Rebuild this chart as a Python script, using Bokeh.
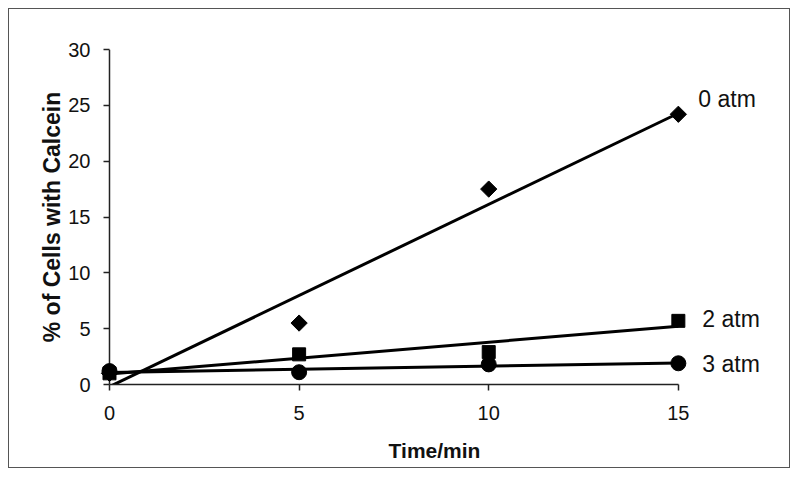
import numpy as np
from bokeh.plotting import figure
from bokeh.models import Range1d, Span, Label
from bokeh.embed import file_html
from bokeh.resources import INLINE

# ---- data ----
time_min = [0, 5, 10, 15]
atm0 = [1.0, 5.5, 17.5, 24.2]
atm2 = [1.0, 2.7, 2.9, 5.7]
atm3 = [1.2, 1.1, 1.8, 1.9]
series_names = ["0 atm", "2 atm", "3 atm"]
x_ticks = [0, 5, 10, 15]
y_ticks = [0, 5, 10, 15, 20, 25, 30]

FONT = "Liberation Sans"
INK = "#111111"

p = figure(width=782, height=460, output_backend="svg", toolbar_location=None,
           x_range=Range1d(-0.29, 17.43), y_range=Range1d(0, 30),
           min_border_left=89, min_border_right=21,
           min_border_top=40, min_border_bottom=85)
p.styles = {"border": "1px solid #555555", "margin-left": "8px", "margin-top": "8px"}
p.outline_line_color = None
p.grid.visible = False
p.background_fill_color = "white"
p.border_fill_color = "white"

# x axis
xa = p.xaxis[0]
xa.ticker = x_ticks
xa.bounds = (0, 15)
xa.axis_line_color = "#222222"
xa.axis_line_width = 1.5
xa.major_tick_line_color = "#222222"
xa.major_tick_line_width = 1.5
xa.major_tick_in = 0
xa.major_tick_out = 6
xa.minor_tick_line_color = None
xa.major_label_text_font = FONT
xa.major_label_text_font_size = "20px"
xa.major_label_text_color = INK
xa.major_label_standoff = 15
xa.axis_label = "Time/min"
xa.axis_label_text_font = FONT
xa.axis_label_text_font_style = "bold"
xa.axis_label_text_font_size = "21px"
xa.axis_label_text_color = INK
xa.axis_label_standoff = 16

# y axis (line drawn as a span at x = 0)
ya = p.yaxis[0]
ya.ticker = y_ticks
ya.axis_line_color = None
ya.major_tick_line_color = "#222222"
ya.major_tick_line_width = 1.5
ya.major_tick_in = 11
ya.major_tick_out = -5
ya.minor_tick_line_color = None
ya.minor_tick_in = 0
ya.minor_tick_out = 0
ya.major_label_text_font = FONT
ya.major_label_text_font_size = "20px"
ya.major_label_text_color = INK
ya.major_label_standoff = 8
ya.axis_label = "% of Cells with Calcein"
ya.axis_label_text_font = FONT
ya.axis_label_text_font_style = "bold"
ya.axis_label_text_font_size = "23px"
ya.axis_label_text_color = INK
ya.axis_label_standoff = 0

p.add_layout(Span(location=0, dimension="height", line_color="#222222",
                  line_width=1.5, level="underlay"))

# trend lines (least squares fits of each series)
t = np.array(time_min, dtype=float)
xfit = np.array([t.min(), t.max()])
series = [atm0, atm2, atm3]
for ys in series:
    k, b = np.polyfit(t, np.array(ys), 1)
    p.line(xfit, k * xfit + b, line_color="black", line_width=3)

# markers
p.scatter(time_min, atm0, marker="square", size=11.5, angle=np.pi / 4,
          fill_color="black", line_color="black")
p.scatter(time_min, atm2, marker="square", size=13,
          fill_color="black", line_color="black")
p.scatter(time_min, atm3, marker="circle", size=15,
          fill_color="black", line_color="black")

# series labels next to the last points
label_dy = [15, 2, -1]
label_dx = [20, 24, 24]
for name, ys, dx, dy in zip(series_names, series, label_dx, label_dy):
    p.add_layout(Label(x=time_min[-1], y=ys[-1], x_offset=dx, y_offset=dy,
                       text=name, text_font=FONT, text_font_size="23px",
                       text_color=INK, text_baseline="middle", text_align="left"))

open("out.html", "w").write(file_html(p, INLINE))
